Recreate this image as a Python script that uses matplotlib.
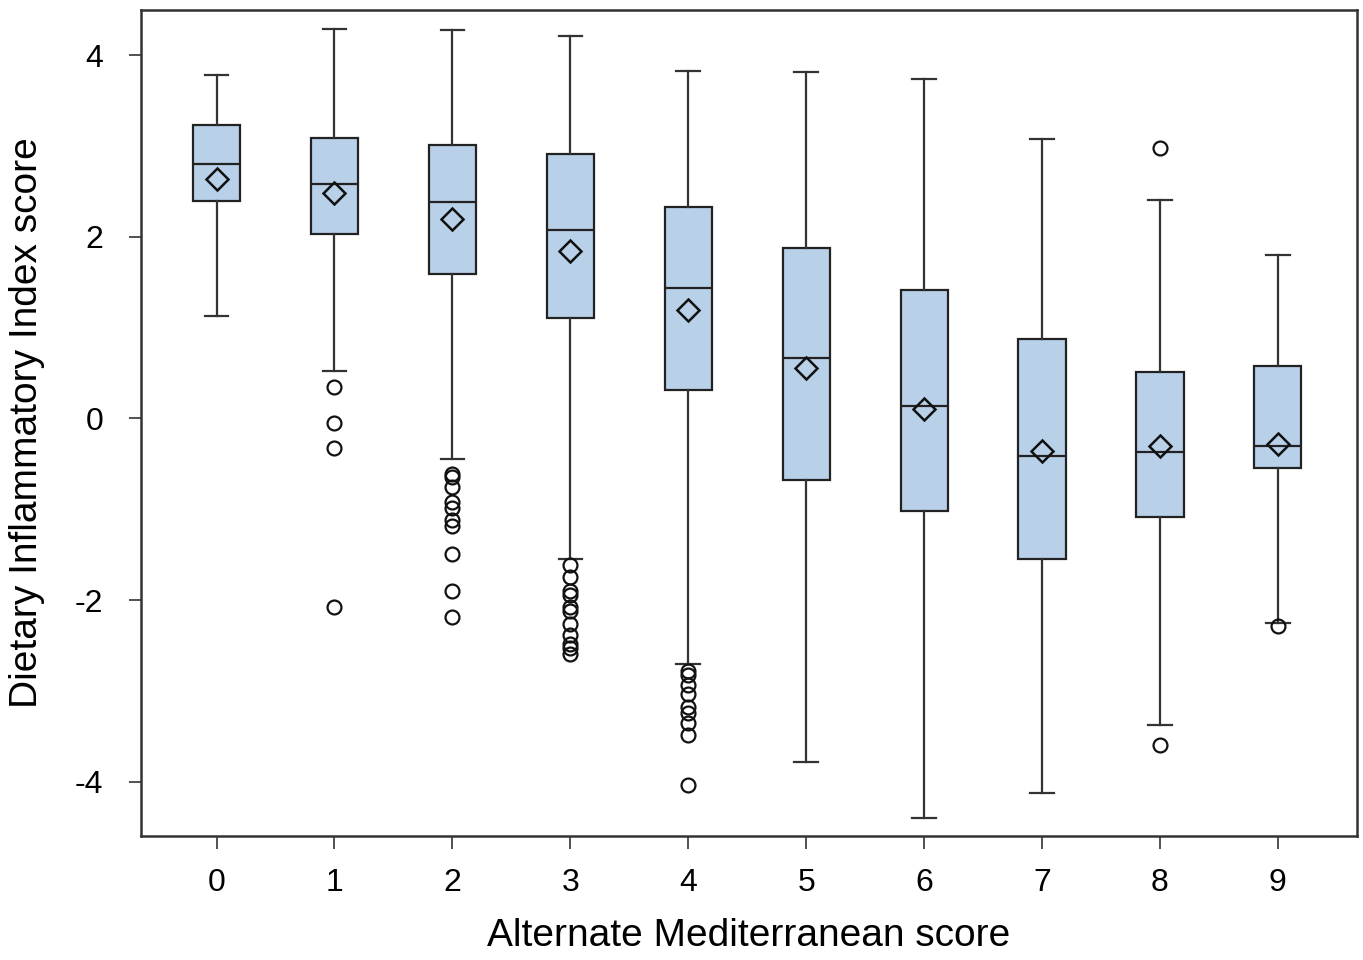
import numpy as np
import matplotlib.pyplot as plt

plt.rcParams['font.family'] = ['Liberation Sans', 'DejaVu Sans']
plt.rcParams['axes.unicode_minus'] = False

# Alternate Mediterranean score groups
scores = [0, 1, 2, 3, 4, 5, 6, 7, 8, 9]

# summary statistics
whis_hi = [3.78, 4.29, 4.28, 4.21, 3.82, 3.81, 3.74, 3.07, 2.40, 1.80]
q3 = [3.23, 3.09, 3.01, 2.91, 2.33, 1.87, 1.41, 0.87, 0.51, 0.58]
median = [2.80, 2.58, 2.38, 2.07, 1.43, 0.66, 0.14, -0.41, -0.37, -0.31]
mean = [2.63, 2.48, 2.19, 1.84, 1.19, 0.55, 0.10, -0.36, -0.31, -0.28]
q1 = [2.39, 2.03, 1.59, 1.10, 0.31, -0.68, -1.02, -1.55, -1.09, -0.55]
whis_lo = [1.13, 0.52, -0.45, -1.55, -2.70, -3.78, -4.40, -4.12, -3.38, -2.25]
outliers = [
    [],
    [0.35, -0.05, -0.33, -2.08],
    [-0.61, -0.65, -0.76, -0.92, -0.99, -1.12, -1.18, -1.49, -1.90, -2.19],
    [-1.62, -1.75, -1.90, -1.95, -2.08, -2.12, -2.26, -2.39, -2.48, -2.53, -2.59],
    [-2.78, -2.83, -2.94, -3.03, -3.18, -3.24, -3.35, -3.49, -4.04],
    [],
    [],
    [],
    [2.98, -3.60],
    [-2.29],
]

stats = []
for i in range(len(scores)):
    stats.append({
        "med": median[i], "q1": q1[i], "q3": q3[i],
        "whislo": whis_lo[i], "whishi": whis_hi[i],
        "mean": mean[i], "fliers": np.array(outliers[i]),
    })

fig = plt.figure(figsize=(13.63, 9.6), dpi=100)
ax = fig.add_axes([0.1035, 0.129, 0.892, 0.861])

edge = '#222222'
ax.bxp(stats, positions=scores, widths=0.4, patch_artist=True, showmeans=True,
       capwidths=0.2,
       boxprops=dict(facecolor='#b9d0e9', edgecolor=edge, linewidth=1.6),
       medianprops=dict(color=edge, linewidth=1.6),
       whiskerprops=dict(color='#333333', linewidth=1.6),
       capprops=dict(color='#333333', linewidth=1.6),
       meanprops=dict(marker='D', markersize=11, markerfacecolor='none',
                      markeredgecolor='#111111', markeredgewidth=1.8),
       flierprops=dict(marker='o', markersize=10, markerfacecolor='none',
                       markeredgecolor='#111111', markeredgewidth=1.6))

ax.set_xlim(-0.64, 9.67)
ax.set_ylim(-4.6, 4.5)
ax.set_xticks(scores)
ax.set_xticklabels([str(s) for s in scores])
ax.set_yticks([-4, -2, 0, 2, 4])
ax.tick_params(axis='both', direction='out', length=9, width=1.2, labelsize=23,
               color='#333333')
ax.tick_params(axis='x', pad=14)
ax.tick_params(axis='y', pad=18)
for sp in ax.spines.values():
    sp.set_linewidth(1.8)
    sp.set_color('#333333')

ax.set_xlabel("Alternate Mediterranean score", fontsize=28, labelpad=14)
ax.set_ylabel("Dietary Inflammatory Index score", fontsize=28, labelpad=22)

fig.savefig("out.png", dpi=100)
